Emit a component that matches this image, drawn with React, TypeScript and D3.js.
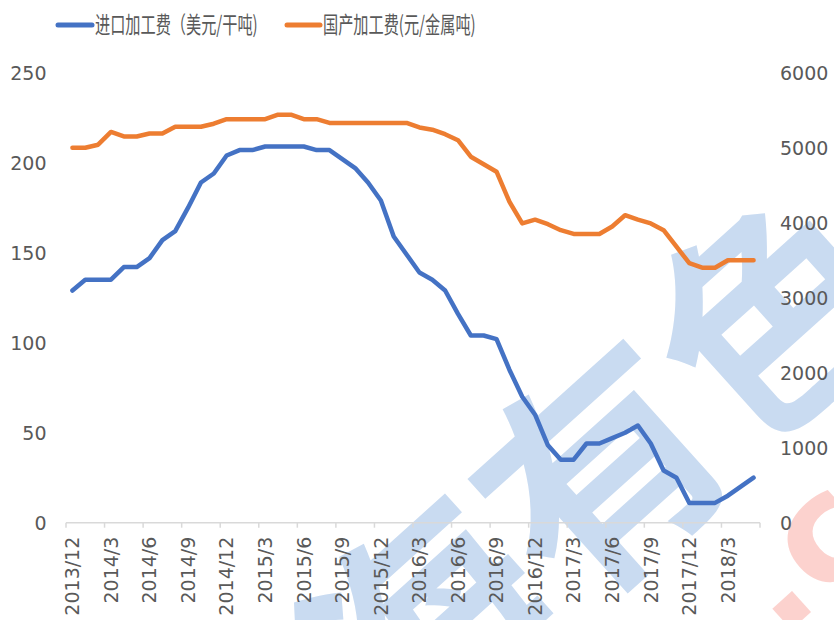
import React from "react";
import * as d3 from "d3";

const months = [
  "2013/12", "2014/1", "2014/2", "2014/3", "2014/4", "2014/5", "2014/6", "2014/7", "2014/8", "2014/9",
  "2014/10", "2014/11", "2014/12", "2015/1", "2015/2", "2015/3", "2015/4", "2015/5", "2015/6", "2015/7",
  "2015/8", "2015/9", "2015/10", "2015/11", "2015/12", "2016/1", "2016/2", "2016/3", "2016/4", "2016/5",
  "2016/6", "2016/7", "2016/8", "2016/9", "2016/10", "2016/11", "2016/12", "2017/1", "2017/2", "2017/3",
  "2017/4", "2017/5", "2017/6", "2017/7", "2017/8", "2017/9", "2017/10", "2017/11", "2017/12", "2018/1",
  "2018/2", "2018/3", "2018/4", "2018/5",
];

// 进口加工费 (USD/dmt), left axis
const importFee = [
  129, 135, 135, 135, 142, 142, 147, 157, 162, 175,
  189, 194, 204, 207, 207, 209, 209, 209, 209, 207,
  207, 202, 197, 189, 179, 159, 149, 139, 135, 129,
  116, 104, 104, 102, 85, 70, 60, 43, 35, 35,
  44, 44, 47, 50, 54, 44, 29, 25, 11, 11,
  11, 15, 20, 25,
];

// 国产加工费 (CNY/t metal), right axis
const domesticFee = [
  5000, 5000, 5040, 5210, 5150, 5150, 5190, 5190, 5280, 5280,
  5280, 5320, 5380, 5380, 5380, 5380, 5440, 5440, 5380, 5380,
  5330, 5330, 5330, 5330, 5330, 5330, 5330, 5270, 5240, 5180,
  5100, 4880, 4780, 4680, 4280, 3990, 4040, 3980, 3900, 3850,
  3850, 3850, 3950, 4100, 4040, 3990, 3900, 3680, 3460, 3400,
  3400, 3500, 3500, 3500,
];

const leftTicks = [0, 50, 100, 150, 200, 250];
const rightTicks = [0, 1000, 2000, 3000, 4000, 5000, 6000];
const seriesNames = ["进口加工费（美元/干吨)", "国产加工费(元/金属吨)"];

const width = 834;
const height = 620;
const plot = { left: 66, right: 760, top: 72.7, bottom: 522.7 };
const textColor = "#595959";
const numFont = "'DejaVu Sans', sans-serif";
const cjkFont = "'Noto Sans CJK SC', sans-serif";

const App = () => {
  const x = d3.scaleBand<string>().domain(months).range([plot.left, plot.right]).padding(0);
  const bw = x.bandwidth();
  const cx = (m: string) => (x(m) as number) + bw / 2;
  const yL = d3.scaleLinear().domain([0, 250]).range([plot.bottom, plot.top]);
  const yR = d3.scaleLinear().domain([0, 6000]).range([plot.bottom, plot.top]);

  const lineL = d3.line<number>().x((_, i) => cx(months[i])).y((d) => yL(d));
  const lineR = d3.line<number>().x((_, i) => cx(months[i])).y((d) => yR(d));

  // ticks every 3 months at category boundaries, plus one at the axis end
  const tickMonths = months.filter((_, i) => i % 3 === 0);

  return (
    <svg width={width} height={height} style={{ position: "absolute", left: 0, top: 0, background: "#fff" }}>
      {/* watermark */}
      <g fill="#c9dbf1" fontFamily={cjkFont} fontWeight={700} fontSize={235}>
        <text transform="translate(600,470) rotate(-42)" textAnchor="middle" dy="0.38em">有</text>
        <text transform="translate(775,312) rotate(-42)" textAnchor="middle" dy="0.38em">色</text>
        <text transform="translate(425,628) rotate(-42)" textAnchor="middle" dy="0.38em">海</text>
      </g>
      <g fill="#fcd2ce" fontFamily={numFont} fontWeight={700} fontSize={150}>
        <text transform="translate(780,640) rotate(-42)">.cn</text>
      </g>

      {/* x axis */}
      <line x1={plot.left} x2={plot.right} y1={plot.bottom} y2={plot.bottom} stroke="#d9d9d9" strokeWidth={1.5} />
      {[...tickMonths.map((m) => x(m) as number), plot.right].map((tx, i) => (
        <line key={i} x1={tx} x2={tx} y1={plot.bottom} y2={plot.bottom + 5} stroke="#d9d9d9" strokeWidth={1.5} />
      ))}
      {tickMonths.map((m) => (
        <text
          key={m}
          transform={`translate(${cx(m)},${plot.bottom + 14}) rotate(-90)`}
          textAnchor="end"
          dy="0.36em"
          fontFamily={numFont}
          fontSize={19}
          fill={textColor}
        >
          {m}
        </text>
      ))}

      {/* left axis labels */}
      {leftTicks.map((t) => (
        <text key={t} x={46.5} y={yL(t)} dy="0.36em" textAnchor="end" fontFamily={numFont} fontSize={19} fill={textColor}>
          {t}
        </text>
      ))}
      {/* right axis labels */}
      {rightTicks.map((t) => (
        <text key={t} x={780} y={yR(t)} dy="0.36em" textAnchor="start" fontFamily={numFont} fontSize={19} fill={textColor}>
          {t}
        </text>
      ))}

      {/* series */}
      <path d={lineR(domesticFee) || ""} fill="none" stroke="#ED7D31" strokeWidth={4.5} strokeLinejoin="round" strokeLinecap="round" />
      <path d={lineL(importFee) || ""} fill="none" stroke="#4472C4" strokeWidth={4.5} strokeLinejoin="round" strokeLinecap="round" />

      {/* legend */}
      <line x1={58} x2={92} y1={25} y2={25} stroke="#4472C4" strokeWidth={5} strokeLinecap="round" />
      <text transform="translate(95,33) scale(0.66,1)" fontFamily={cjkFont} fontSize={23} fill={textColor}>
        {seriesNames[0]}
      </text>
      <line x1={287} x2={320} y1={25} y2={25} stroke="#ED7D31" strokeWidth={5} strokeLinecap="round" />
      <text transform="translate(323,33) scale(0.66,1)" fontFamily={cjkFont} fontSize={23} fill={textColor}>
        {seriesNames[1]}
      </text>
    </svg>
  );
};

export default App;
